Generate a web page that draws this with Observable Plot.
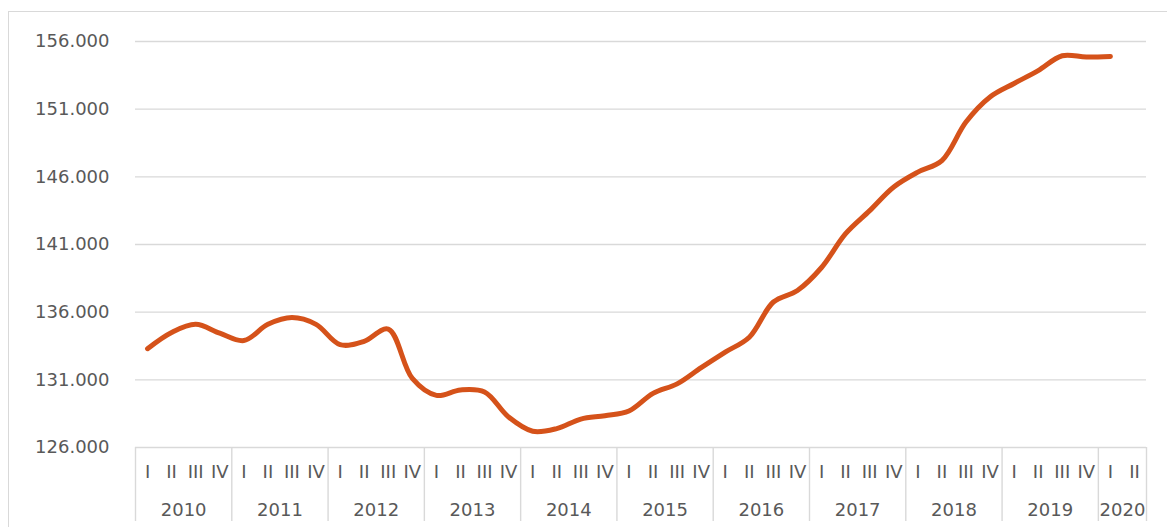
<!DOCTYPE html>
<html>
<head>
<meta charset="utf-8">
<script src="https://cdn.jsdelivr.net/npm/d3@7"></script>
<script src="https://cdn.jsdelivr.net/npm/@observablehq/plot@0.6"></script>
<style>
  html, body { margin: 0; padding: 0; background: #fff; overflow: hidden; }
  #wrap { position: relative; width: 1167px; height: 527px; }
  #border { position: absolute; left: 8px; top: 11px; width: 1200px; height: 600px;
            border: 1.5px solid #d9d9d9; box-sizing: border-box; pointer-events: none; }
  #chart { position: absolute; left: 0; top: 0; }
</style>
</head>
<body>
<div id="wrap"><div id="border"></div><div id="chart"></div></div>
<script>
const years = ["2010","2011","2012","2013","2014","2015","2016","2017","2018","2019","2020"];
const quarterNames = ["I","II","III","IV"];
// quarterly values, 2010 Q1 .. 2020 Q2 (2020 Q2 missing)
const values = [
  133300, 134500, 135100, 134450,
  133900, 135100, 135600, 135100,
  133600, 133850, 134750, 131100,
  129850, 130250, 130100, 128250,
  127200, 127400, 128100, 128350,
  128700, 130000, 130700, 131900,
  133050, 134150, 136750, 137600,
  139300, 141800, 143500, 145250,
  146350, 147200, 150050, 151900,
  152900, 153850, 154950, 154850,
  154900, null
];
const yTicks = [126000, 131000, 136000, 141000, 146000, 151000, 156000];

const data = values.map((v, i) => ({
  i, v,
  year: years[Math.floor(i / 4)],
  q: quarterNames[i % 4]
}));
const n = data.length;
const quarterIdx = data.map(d => d.i);
const yearMid = years.map((y, k) => {
  const s = k * 4, e = Math.min(k * 4 + 3, n - 1);
  return (s + e) / 2;
});
const separators = years.map((y, k) => k * 4 - 0.5).concat([n - 0.5]);

const fmt = v => d3.format(",.0f")(v).replace(/,/g, ".");
const font = "Verdana, 'DejaVu Sans', sans-serif";
const textColor = "#595959";
const gridColor = "#d9d9d9";

const chart = Plot.plot({
  width: 1167,
  height: 527,
  marginLeft: 135,
  marginRight: 21,
  marginTop: 41,
  marginBottom: 80,
  style: { fontFamily: font, fontSize: "18px", color: textColor, background: "transparent" },
  x: { type: "linear", domain: [-0.5, n - 0.5] },
  y: { domain: [126000, 156000] },
  marks: [
    Plot.ruleY(yTicks, { stroke: gridColor, strokeWidth: 1.4 }),
    Plot.axisY({ ticks: yTicks, tickSize: 0, tickPadding: 26, tickFormat: fmt,
                 fontSize: 18, fill: textColor, label: null }),
    Plot.axisX({ ticks: separators, tickSize: 74, tickFormat: () => "",
                 stroke: gridColor, strokeWidth: 1.4, label: null }),
    Plot.axisX({ ticks: quarterIdx, tickSize: 0, tickPadding: 18,
                 tickFormat: i => quarterNames[i % 4], fontSize: 18, fill: textColor, label: null }),
    Plot.axisX({ ticks: yearMid, tickSize: 0, tickPadding: 56,
                 tickFormat: (m, k) => years[k], fontSize: 18, fill: textColor, label: null }),
    Plot.line(data.filter(d => d.v != null), {
      x: "i", y: "v", curve: "catmull-rom",
      stroke: "#d5521a", strokeWidth: 5, strokeLinecap: "round", strokeLinejoin: "round"
    })
  ]
});
document.getElementById("chart").appendChild(chart);
</script>
</body>
</html>
